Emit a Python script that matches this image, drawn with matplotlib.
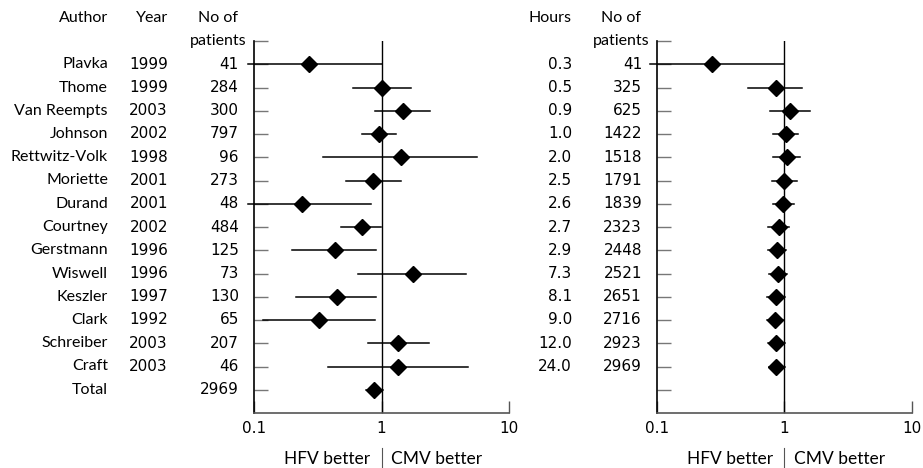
import matplotlib
matplotlib.use('Agg')
import matplotlib.pyplot as plt
from matplotlib.transforms import blended_transform_factory

plt.rcParams['font.family'] = ['Lato', 'DejaVu Sans']

# left panel: individual trials
authors = ['Plavka', 'Thome', 'Van Reempts', 'Johnson', 'Rettwitz-Volk', 'Moriette',
           'Durand', 'Courtney', 'Gerstmann', 'Wiswell', 'Keszler', 'Clark',
           'Schreiber', 'Craft', 'Total']
years = ['1999', '1999', '2003', '2002', '1998', '2001', '2001', '2002', '1996',
         '1996', '1997', '1992', '2003', '2003', '']
patients = [41, 284, 300, 797, 96, 273, 48, 484, 125, 73, 130, 65, 207, 46, 2969]
or_trial = [0.27, 1.0, 1.48, 0.96, 1.41, 0.85, 0.238, 0.70, 0.43, 1.77, 0.449, 0.322,
            1.35, 1.35, 0.87]
lo_trial = [0.089, 0.60, 0.886, 0.70, 0.35, 0.525, 0.089, 0.477, 0.199, 0.656, 0.214,
            0.118, 0.78, 0.381, 0.75]
hi_trial = [1.0, 1.70, 2.42, 1.29, 5.66, 1.42, 0.82, 0.99, 0.91, 4.58, 0.90, 0.886,
            2.36, 4.78, 1.03]

# right panel: cumulative by hours
hours = ['0.3', '0.5', '0.9', '1.0', '2.0', '2.5', '2.6', '2.7', '2.9', '7.3', '8.1',
         '9.0', '12.0', '24.0']
cum_patients = [41, 325, 625, 1422, 1518, 1791, 1839, 2323, 2448, 2521, 2651, 2716,
                2923, 2969]
or_cum = [0.27, 0.856, 1.12, 1.03, 1.05, 1.0, 0.98, 0.914, 0.88, 0.90, 0.856, 0.85,
          0.87, 0.87]
lo_cum = [0.089, 0.522, 0.77, 0.82, 0.82, 0.805, 0.81, 0.75, 0.75, 0.763, 0.736, 0.73,
          0.74, 0.763]
hi_cum = [1.0, 1.37, 1.59, 1.29, 1.33, 1.25, 1.19, 1.09, 1.04, 1.06, 1.01, 1.0, 1.02,
          1.01]

FS = 11.5
NUM = dict(fontsize=11, family='DejaVu Sans')

fig = plt.figure(figsize=(9.23, 4.68), dpi=100)
ax1 = fig.add_axes([254 / 923, 1 - 413 / 468, 255 / 923, 372 / 468])
ax2 = fig.add_axes([656.7 / 923, 1 - 413 / 468, 255 / 923, 372 / 468])


def forest(ax, est, lo, hi):
    rows = list(range(1, len(est) + 1))
    for r, e, l, h in zip(rows, est, lo, hi):
        ax.plot([l, h], [r, r], color='black', lw=1.1, clip_on=False, zorder=3)
    ax.plot(est, rows, 'D', color='black', ms=8, zorder=4, clip_on=False)
    ax.axvline(1, color='black', lw=1, zorder=2)
    ax.set_xscale('log')
    ax.set_xlim(0.1, 10)
    ax.set_ylim(16, 0)
    ax.set_yticks(range(0, 16))
    ax.set_yticklabels([])
    ax.tick_params(axis='y', direction='in', length=10, width=1, color='#777777')
    ax.set_xticks([0.1, 1, 10])
    ax.set_xticklabels(['0.1', '1', '10'], **NUM)
    ax.xaxis.set_minor_locator(matplotlib.ticker.NullLocator())
    ax.tick_params(axis='x', direction='in', length=9, width=1, color='#555555', pad=6)
    ax.spines['top'].set_visible(False)
    ax.spines['right'].set_visible(False)
    ax.spines['left'].set_linewidth(1.2)
    ax.spines['bottom'].set_color('#555555')
    ax.spines['bottom'].set_linewidth(1.2)
    bt = blended_transform_factory(ax.transData, ax.transAxes)
    ax.annotate('HFV better', xy=(1, -0.124), xycoords=bt, xytext=(-8, 0),
                textcoords='offset points', ha='right', va='center', fontsize=12.5,
                annotation_clip=False)
    ax.annotate('CMV better', xy=(1, -0.124), xycoords=bt, xytext=(7, 0),
                textcoords='offset points', ha='left', va='center', fontsize=12.5,
                annotation_clip=False)
    ax.plot([1, 1], [-0.094, -0.148], color='#555555', lw=0.8, transform=bt,
            clip_on=False)


forest(ax1, or_trial, lo_trial, hi_trial)
forest(ax2, or_cum, lo_cum, hi_cum)

# text columns, left
t1 = blended_transform_factory(fig.transFigure, ax1.transData)
ax1.text(108 / 923, -1, 'Author', transform=t1, ha='right', va='center', fontsize=FS)
ax1.text(168 / 923, -1, 'Year', transform=t1, ha='right', va='center', fontsize=FS)
ax1.text(218 / 923, -1, 'No of', transform=t1, ha='center', va='center', fontsize=FS)
ax1.text(218 / 923, 0, 'patients', transform=t1, ha='center', va='center', fontsize=FS)
for i, (a, y, n) in enumerate(zip(authors, years, patients)):
    r = i + 1
    ax1.text(108 / 923, r, a, transform=t1, ha='right', va='center', fontsize=FS)
    ax1.text(168 / 923, r, y, transform=t1, ha='right', va='center', **NUM)
    ax1.text(239 / 923, r, str(n), transform=t1, ha='right', va='center', **NUM)

# text columns, right
t2 = blended_transform_factory(fig.transFigure, ax2.transData)
ax2.text(572 / 923, -1, 'Hours', transform=t2, ha='right', va='center', fontsize=FS)
ax2.text(621 / 923, -1, 'No of', transform=t2, ha='center', va='center', fontsize=FS)
ax2.text(621 / 923, 0, 'patients', transform=t2, ha='center', va='center', fontsize=FS)
for i, (h, n) in enumerate(zip(hours, cum_patients)):
    r = i + 1
    ax2.text(572 / 923, r, h, transform=t2, ha='right', va='center', **NUM)
    ax2.text(642 / 923, r, str(n), transform=t2, ha='right', va='center', **NUM)

fig.savefig('out.png', dpi=100)
